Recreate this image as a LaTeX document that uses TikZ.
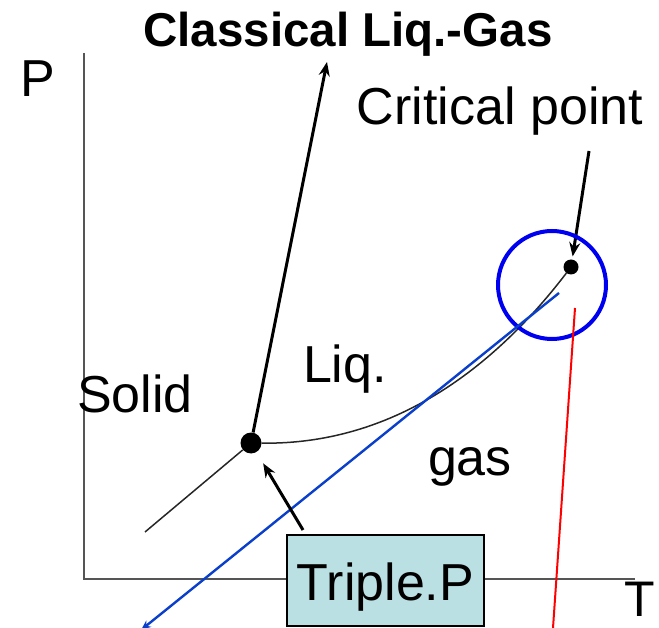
\documentclass[tikz,border=0pt]{standalone}
\usepackage{fontspec}
\setmainfont{Liberation Sans}
\usetikzlibrary{arrows.meta,positioning}
\definecolor{boxcyan}{HTML}{BBE0E3}
\definecolor{ringblue}{HTML}{0000F0}
\definecolor{lineblue}{HTML}{0A3FCC}
\definecolor{axisgray}{HTML}{555555}

\begin{document}
\begin{tikzpicture}[x=1pt,y=-1pt,
        lbl/.style={font=\fontsize{52}{60}\selectfont,inner sep=0pt,anchor=base},
        ttl/.style={font=\fontsize{47.5}{56}\selectfont\bfseries,inner sep=0pt,anchor=base},
        dot/.style={circle,fill=black,inner sep=0pt},
        phase/.style={draw=black!85,line width=1.5pt},
        axis/.style={draw=axisgray,line width=2pt},
        arr/.style={-{Stealth[length=14pt,width=11pt]},line width=3pt},
        tpbox/.style={draw=black,line width=1.6pt,fill=boxcyan,minimum width=197pt,minimum height=91pt,
          font=\fontsize{52}{60}\selectfont,text height=42pt,text depth=3pt,inner sep=0pt}]
        \useasboundingbox (0,0) rectangle (659,628);
        % axes
        \coordinate (ytop) at (84,53);
        \coordinate (orig) at (84,579);
        \coordinate (xend) at (635,579);
        \draw[axis] (ytop) -- (orig) -- (xend);
        \node[lbl] (plab) at (38,97) {P};
        \node[lbl,font=\fontsize{50}{60}\selectfont] (tlab) at (640,616) {T};
        % points
        \node[dot,minimum size=21pt] (tp) at (251,443) {};
        \node[dot,minimum size=15pt] (cp) at (571,267) {};
        % phase lines
        \coordinate (sg) at (145,532);
        \draw[phase] (sg) -- (tp);
        \draw[phase] (tp) .. controls (400,445) and (500,360) .. (cp);
        \coordinate (mtop) at (327,62);
        \draw[arr] (tp) -- (mtop);
        % critical point
        \coordinate (ctail) at (589,151);
        \draw[arr,shorten >=3pt] (ctail) -- (cp);
        \node[draw=ringblue,circle,line width=4pt,minimum size=108pt,inner sep=0pt] (ring) at (552,285) {};
        % overlay lines
        \coordinate (bl1) at (141,630);
        \coordinate (bl2) at (559,293);
        \draw[lineblue,line width=2.4pt,{Stealth[length=10pt,width=8pt]}-] (bl1) -- (bl2);
        \coordinate (rl1) at (575,308);
        \coordinate (rl2) at (553,628);
        \draw[red,line width=2pt] (rl1) -- (rl2);
        % labels
        \node[ttl] (title) at (348,47) {Classical Liq.-Gas};
        \node[lbl] (crit) at (500,125) {Critical point};
        \node[lbl] (solid) at (135,413) {Solid};
        \node[lbl] (liq) at (345,383) {Liq.};
        \node[lbl] (gas) at (470,475) {gas};
        \node[tpbox] (tpname) at (385.5,580.5) {Triple.P};
        \coordinate (tptail) at (303,530);
        \draw[arr,shorten >=13pt] (tptail) -- (tp);
      \end{tikzpicture}
\end{document}
